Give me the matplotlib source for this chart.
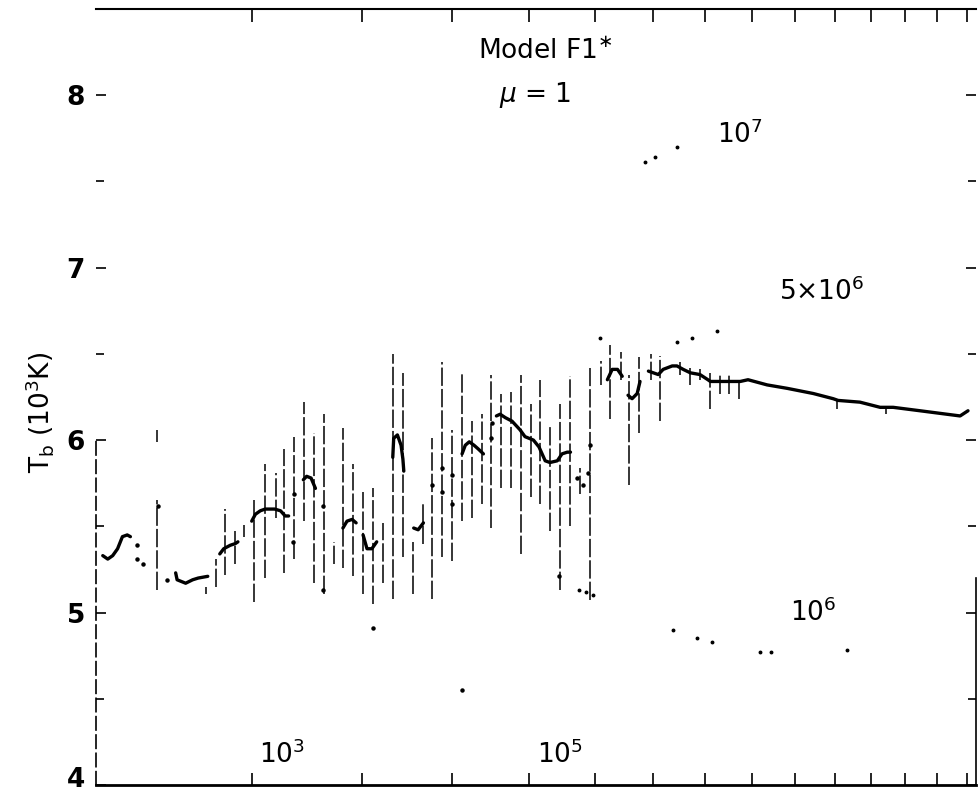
import numpy as np
import matplotlib
matplotlib.use("Agg")
import matplotlib.pyplot as plt
import matplotlib.transforms as mtransforms

# mean brightness temperature, drawn as separate pieces (10^3 K)
seg_x = [
    [2.96, 2.99, 3.02, 3.05, 3.08, 3.11, 3.13],
    [3.43, 3.44, 3.50, 3.55, 3.59, 3.66],
    [3.75, 3.78, 3.83, 3.87, 3.89],
    [4.00, 4.03, 4.07, 4.11, 4.19, 4.24, 4.28, 4.31],
    [4.44, 4.47, 4.51, 4.55],
    [4.81, 4.85, 4.90, 4.94],
    [5.01, 5.05, 5.10, 5.15],
    [5.32, 5.33, 5.37, 5.41, 5.43, 5.44],
    [5.55, 5.60, 5.66],
    [6.12, 6.16, 6.21, 6.27, 6.32, 6.39],
    [6.56, 6.61, 6.68, 6.77, 6.88, 6.95, 7.07, 7.15, 7.24, 7.31, 7.42, 7.49, 7.57, 7.62],
    [8.21, 8.29, 8.38, 8.46],
    [8.56, 8.63, 8.72, 8.77],
    [8.92, 9.10, 9.19, 9.36, 9.45, 9.57, 9.71, 9.90, 10.06, 10.11, 10.74, 10.91,
     11.34, 11.81, 12.45, 12.96, 13.09, 13.68, 14.25, 14.63, 15.45, 16.75, 17.02],
]
seg_y = [
    [5.33, 5.31, 5.33, 5.37, 5.44, 5.45, 5.44],
    [5.23, 5.19, 5.17, 5.19, 5.20, 5.21],
    [5.34, 5.37, 5.39, 5.40, 5.41],
    [5.53, 5.57, 5.59, 5.60, 5.60, 5.59, 5.56, 5.56],
    [5.77, 5.79, 5.78, 5.72],
    [5.49, 5.53, 5.54, 5.52],
    [5.45, 5.37, 5.37, 5.41],
    [5.90, 6.01, 6.03, 5.97, 5.89, 5.82],
    [5.49, 5.48, 5.52],
    [5.92, 5.97, 5.99, 5.97, 5.95, 5.92],
    [6.14, 6.15, 6.13, 6.11, 6.06, 6.02, 6.00, 5.96, 5.88, 5.87, 5.88, 5.92, 5.93, 5.93],
    [6.35, 6.41, 6.41, 6.37],
    [6.26, 6.24, 6.27, 6.34],
    [6.40, 6.38, 6.41, 6.43, 6.43, 6.41, 6.39, 6.38, 6.35, 6.34, 6.34, 6.35,
     6.32, 6.30, 6.27, 6.24, 6.23, 6.22, 6.19, 6.19, 6.17, 6.14, 6.17],
]

# ranges (vertical lines)
bar_x = [3.30, 3.30, 3.65, 3.72, 3.79, 3.87, 3.94, 4.02, 4.11, 4.20, 4.27, 4.36,
         4.45, 4.54, 4.63, 4.72, 4.81, 4.91, 5.01, 5.11, 5.22, 5.32, 5.43, 5.54,
         5.65, 5.76, 5.88, 6.00, 6.12, 6.25, 6.37, 6.49, 6.62, 6.76, 6.90, 7.04,
         7.17, 7.31, 7.46, 7.62, 7.77, 7.93, 8.11, 8.26, 8.44, 8.58, 8.76, 8.97,
         9.14, 9.51, 9.71, 9.90, 10.11, 10.31, 10.50, 10.71, 13.06, 14.42]
bar_lo = [5.99, 5.13, 5.11, 5.15, 5.22, 5.28, 5.44, 5.06, 5.20, 5.55, 5.23, 5.31,
          5.53, 5.17, 5.11, 5.28, 5.26, 5.21, 5.11, 5.05, 5.17, 5.08, 5.32, 5.11,
          5.40, 5.08, 5.32, 5.30, 5.53, 5.55, 5.63, 5.49, 5.72, 5.72, 5.34, 5.67,
          5.63, 5.47, 5.13, 5.50, 5.69, 5.07, 6.32, 6.12, 6.35, 5.74, 6.04, 6.35,
          6.11, 6.38, 6.32, 6.35, 6.18, 6.27, 6.27, 6.24, 6.18, 6.15]
bar_hi = [6.06, 5.65, 5.15, 5.31, 5.60, 5.47, 5.51, 5.65, 5.86, 5.81, 5.95, 6.02,
          6.22, 6.04, 6.15, 5.41, 6.07, 5.86, 5.70, 5.72, 5.52, 6.50, 6.39, 5.41,
          5.63, 6.01, 6.45, 6.06, 6.39, 6.11, 6.15, 6.38, 6.27, 6.28, 6.38, 6.21,
          6.35, 6.09, 6.21, 6.37, 5.84, 6.42, 6.46, 6.55, 6.51, 6.38, 6.48, 6.50,
          6.49, 6.45, 6.42, 6.41, 6.39, 6.38, 6.38, 6.35, 6.24, 6.19]

# stray points
dot_x = [3.17, 3.17, 3.21, 3.31, 3.37, 4.36, 4.35, 4.62, 4.62, 5.76, 5.88, 5.88,
         6.00, 6.00, 6.49, 6.50, 7.45, 7.72, 7.82, 7.93, 7.90, 5.11, 6.12]
dot_y = [5.39, 5.31, 5.28, 5.62, 5.19, 5.69, 5.41, 5.62, 5.13, 5.74, 5.84, 5.70,
         5.80, 5.63, 6.01, 6.10, 5.21, 5.78, 5.74, 5.97, 5.81, 4.91, 4.55]

# dotted comparison curves
c1e7_x = [8.86, 9.04, 9.45]
c1e7_y = [7.61, 7.64, 7.70]
c5e6_x = [8.09, 9.45, 9.75, 10.25]
c5e6_y = [6.59, 6.57, 6.59, 6.63]
c1e6_x = [7.75, 7.86, 7.97, 9.38, 9.84, 10.15, 11.18, 11.43, 13.33]
c1e6_y = [5.13, 5.12, 5.10, 4.90, 4.85, 4.83, 4.77, 4.77, 4.78]

xticks = list(range(4, 18))
yticks = [4, 5, 6, 7, 8]
yminor = [4.5, 5.5, 6.5, 7.5]

fig = plt.figure(figsize=(9.79, 7.93), dpi=100)
ax = fig.add_axes([0.0981, 0.0101, 0.8989, 0.9786])

ax.set_xscale("log")
ax.set_xlim(2.92, 17.3)
ax.set_ylim(4, 8.5)

for xs, ys in zip(seg_x, seg_y):
    ax.plot(xs, ys, color="black", lw=2.4, solid_capstyle="round")

ax.vlines(bar_x, bar_lo, bar_hi, color="black", lw=1.1, linestyles=(0, (12, 2)))
ax.plot(dot_x, dot_y, "o", color="black", ms=2.2, ls="none")

for xs, ys in [(c1e7_x, c1e7_y), (c5e6_x, c5e6_y), (c1e6_x, c1e6_y)]:
    ax.plot(xs, ys, "o", color="black", ms=1.8, ls="none")

# axes styling
ax.set_xticks(xticks)
ax.xaxis.set_minor_locator(matplotlib.ticker.NullLocator())
ax.set_xticklabels([])
ax.set_yticks(yticks)
ax.set_yticks(yminor, minor=True)
ax.set_yticklabels([str(v) for v in yticks], fontsize=19, fontweight="bold")
ax.tick_params(axis="x", which="both", direction="in", length=9, width=1.2,
               top=True, bottom=True)
ax.tick_params(axis="y", which="major", direction="in", length=7, width=1.2,
               left=True, right=True, pad=8)
ax.tick_params(axis="y", which="minor", direction="in", length=6, width=1.2,
               left=True, right=True)

# lift the bottom "4" a little so it stays inside the figure
shift = mtransforms.ScaledTranslation(0, 8 / 100, fig.dpi_scale_trans)
for lab in ax.get_yticklabels():
    if lab.get_text() == "4":
        lab.set_transform(lab.get_transform() + shift)

ax.spines["bottom"].set_linewidth(2.0)
ax.spines["top"].set_linewidth(1.5)
ax.spines["left"].set_linewidth(1.2)
ax.spines["left"].set_linestyle((0, (8, 3)))
ax.spines["left"].set_bounds(4, 6.0)
ax.spines["right"].set_linewidth(1.2)
ax.spines["right"].set_bounds(4, 5.2)

ax.set_ylabel(r"T$_\mathregular{b}$ (10$^\mathregular{3}$K)", fontsize=19)
ax.yaxis.set_label_coords(-0.064, 0.48)
ax.yaxis.label.set_va("center")

tkw = dict(transform=ax.transAxes, ha="center", va="center", fontsize=19)
ax.text(0.511, 0.945, r"Model F1$^{\ast}$", **tkw)
ax.text(0.499, 0.889, r"$\mathit{\mu}$ = 1", **tkw)
ax.text(0.732, 0.838, r"10$^\mathregular{7}$", **tkw)
ax.text(0.825, 0.636, r"5$\times$10$^\mathregular{6}$", **tkw)
ax.text(0.815, 0.222, r"10$^\mathregular{6}$", **tkw)
ax.text(0.211, 0.039, r"10$^\mathregular{3}$", **tkw)
ax.text(0.527, 0.039, r"10$^\mathregular{5}$", **tkw)

fig.savefig("out.png", dpi=100)
